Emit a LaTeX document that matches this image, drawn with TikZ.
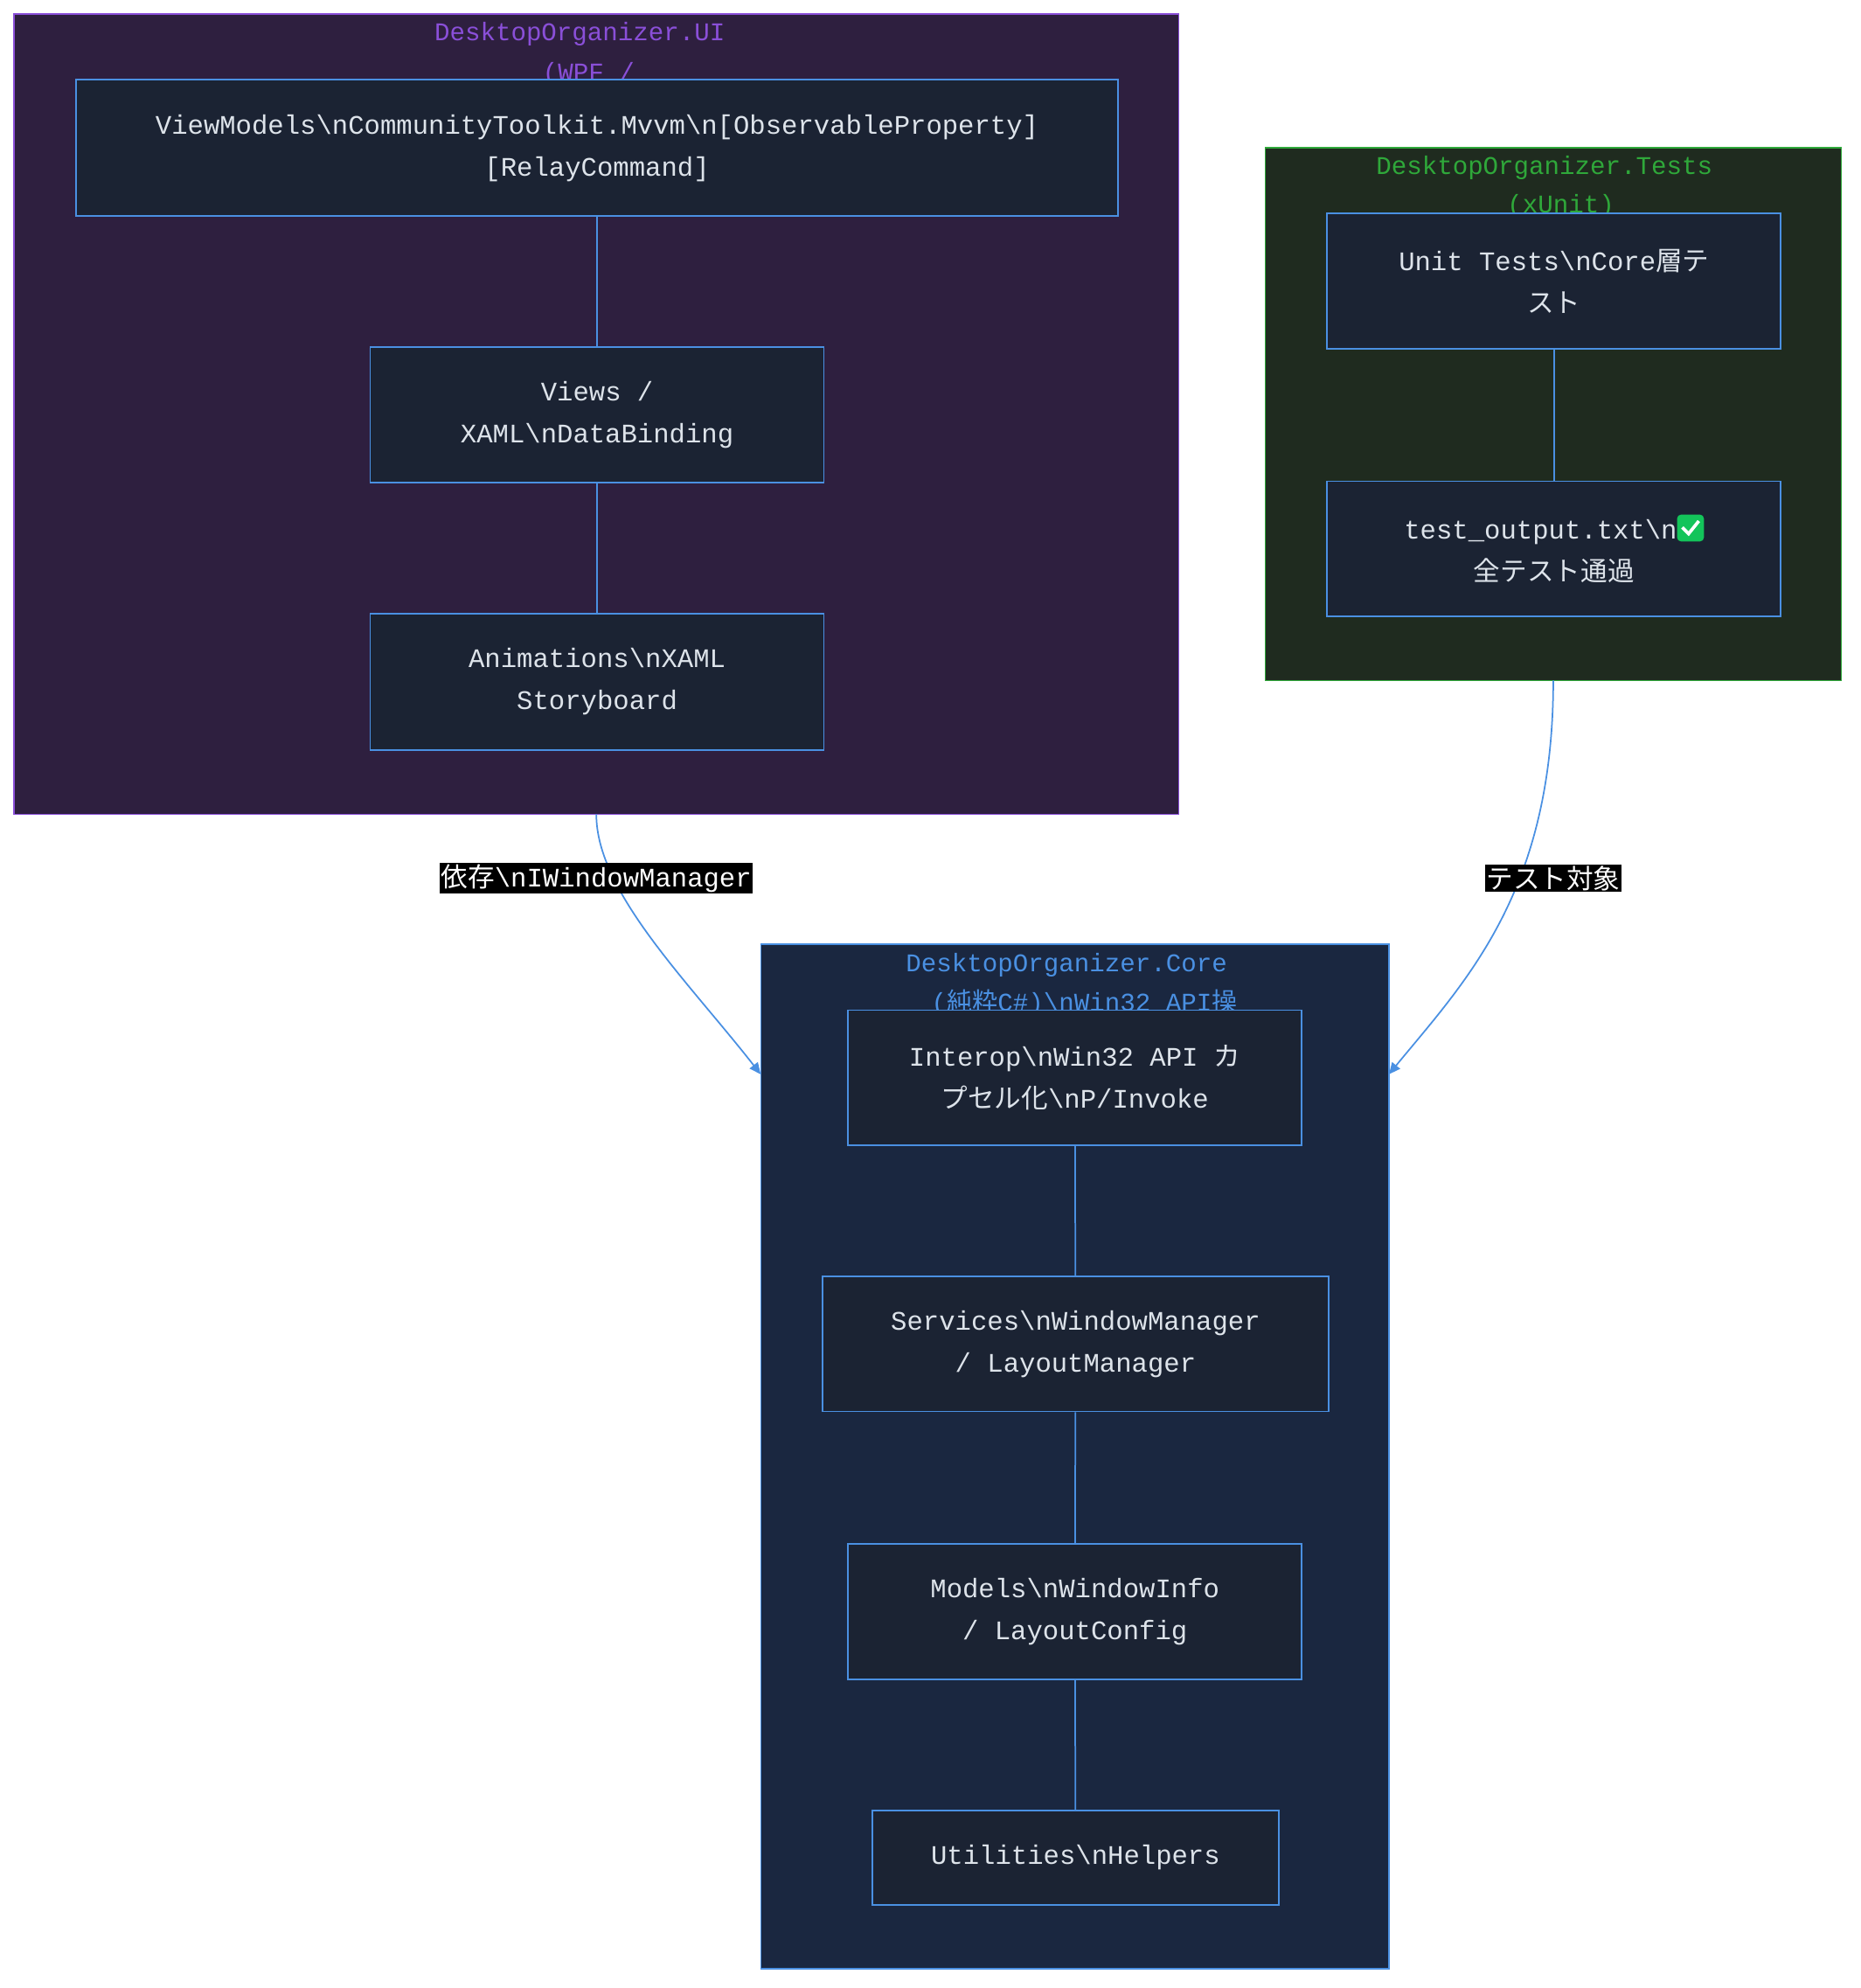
\documentclass[tikz,border=0pt]{standalone}
\usepackage{fontspec}
\setmonofont{Liberation Mono}
\newfontfamily\jp{Noto Sans CJK JP}
\usetikzlibrary{arrows.meta}
\definecolor{uifill}{HTML}{2E1F3F}
\definecolor{uiline}{HTML}{8A4FD8}
\definecolor{tsfill}{HTML}{1F2B1F}
\definecolor{tsline}{HTML}{2FA83A}
\definecolor{cofill}{HTML}{1A2740}
\definecolor{coline}{HTML}{4A90E2}
\definecolor{boxfill}{HTML}{1B2333}
\definecolor{txt}{HTML}{DDE3EA}
\definecolor{okgreen}{HTML}{13C45A}
\begin{document}
\begin{tikzpicture}[x=1pt,y=-1pt,font=\ttfamily\fontsize{21}{33}\selectfont]
  %
  % `cluster' is the project background, `part' is a box inside it.
  \tikzset{cluster/.style={draw,line width=1pt},
    part/.style={draw=coline,fill=boxfill,line width=1.2pt,text=txt,align=center,anchor=north west,inner sep=0pt},
    title/.style={font=\ttfamily\fontsize{20}{30}\selectfont},
    link/.style={draw=coline,line width=1.2pt},
    flow/.style={link,-{Triangle[length=9pt,width=8pt]}},
    tag/.style={fill=black,text=white,inner sep=1pt}}
  \useasboundingbox (0,0) rectangle (1460,1560);
  %
  % Clusters
  \path[cluster,fill=uifill,draw=uiline] (11,11) rectangle (925,639);
  \path[cluster,fill=tsfill,draw=tsline] (993,116) rectangle (1445,534);
  \path[cluster,fill=cofill,draw=coline] (597,741) rectangle (1090,1545);
  \node[title,text=uiline] (uit) at (455,27) {DesktopOrganizer.UI};
  \node[title,text=uiline] (uis) at (462,58) {(WPF /};
  \node[title,text=tsline] (tst) at (1212,132) {DesktopOrganizer.Tests};
  \node[title,text=tsline] (tss) at (1225,162) {(xUnit)};
  \node[title,text=coline] (cot) at (837,757) {DesktopOrganizer.Core};
  \node[title,text=coline] (cos) at (851,787) {({\jp 純粋}C\#)\textbackslash nWin32 API{\jp 操}};
  %
  % UI column
  \node[part,minimum width=818pt,minimum height=107pt] (vm) at (59,62)
    {ViewModels\textbackslash nCommunityToolkit.Mvvm\textbackslash n[ObservableProperty]\\\relax [RelayCommand]};
  \node[part,minimum width=356pt,minimum height=106pt] (views) at (290,272)
    {Views /\\XAML\textbackslash nDataBinding};
  \node[part,minimum width=356pt,minimum height=107pt] (anim) at (290,481)
    {Animations\textbackslash nXAML\\Storyboard};
  %
  % Tests column
  \node[part,minimum width=356pt,minimum height=106pt] (unit) at (1041,167)
    {Unit Tests\textbackslash nCore{\jp 層テ}\\{\jp スト}};
  \node[part,minimum width=356pt,minimum height=106pt] (out) at (1041,377)
    {test\_output.txt\textbackslash n\tikz[baseline=2pt,x=1pt,y=1pt]{\fill[okgreen,rounded corners=3pt] (0,0) rectangle (21,21);\draw[white,line width=2.5pt] (4,11) -- (9,6) -- (17,16);}\\{\jp 全テスト通過}};
  %
  % Core column
  \node[part,minimum width=356pt,minimum height=106pt] (interop) at (665,792)
    {Interop\textbackslash nWin32 API {\jp カ}\\{\jp プセル化}\textbackslash nP/Invoke};
  \node[part,minimum width=397pt,minimum height=106pt] (serv) at (645,1001)
    {Services\textbackslash nWindowManager\\/ LayoutManager};
  \node[part,minimum width=356pt,minimum height=106pt] (models) at (665,1211)
    {Models\textbackslash nWindowInfo\\/ LayoutConfig};
  \node[part,minimum width=319pt,minimum height=74pt] (util) at (684,1420)
    {Utilities\textbackslash nHelpers};
  %
  % Inner links
  \path[link] (vm) -- (views);
  \path[link] (views) -- (anim);
  \path[link] (unit) -- (out);
  \path[link] (interop) -- (serv);
  \path[link] (serv) -- (models);
  \path[link] (models) -- (util);
  %
  % Cross links
  \coordinate (uib) at (468,639);
  \coordinate (tsb) at (1219,534);
  \coordinate (coleft) at (597,843);
  \coordinate (coright) at (1090,843);
  \path[flow] (uib) .. controls (468,700) and (540,770) .. (coleft);
  \path[flow] (tsb) .. controls (1219,700) and (1150,770) .. (coright);
  \node[tag] (dep) at (468,689) {{\jp 依存}\textbackslash nIWindowManager};
  \node[tag] (tgt) at (1219,689) {{\jp テスト対象}};
\end{tikzpicture}
\end{document}
